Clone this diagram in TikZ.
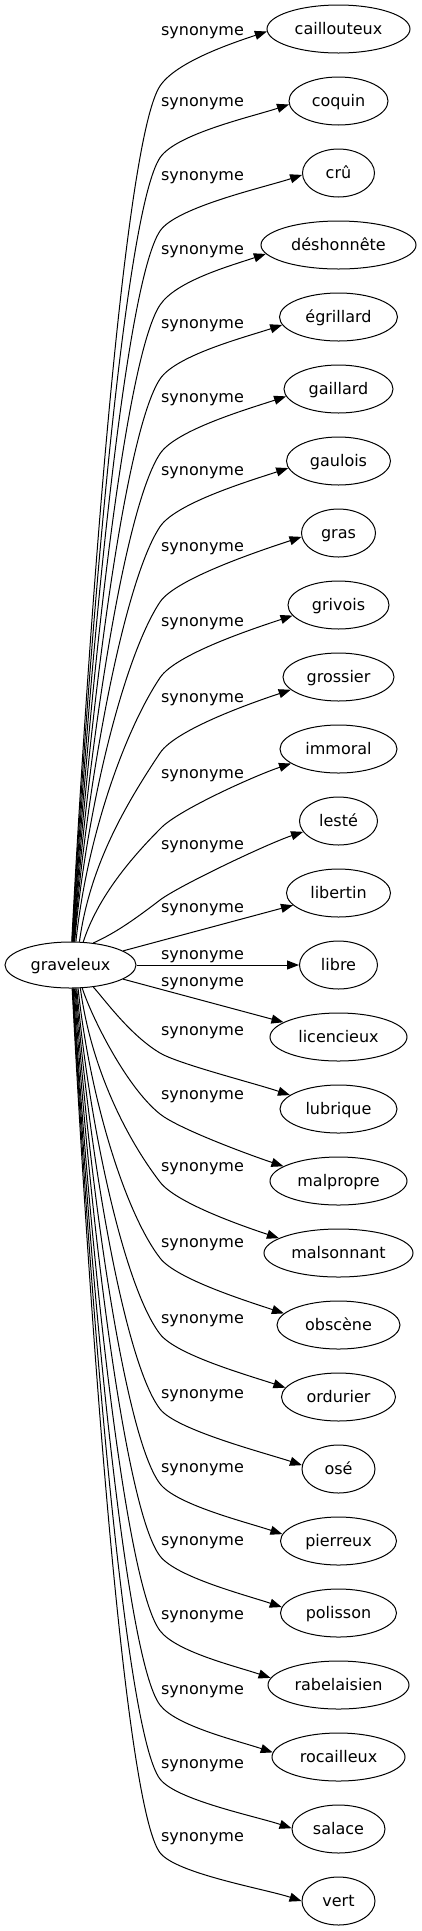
\documentclass[tikz,border=0pt]{standalone}
\usepackage{fontspec}
\setmainfont{DejaVu Sans}
\usetikzlibrary{shapes.geometric,arrows.meta,calc}
\begin{document}
\begin{tikzpicture}[x=1pt,y=-1pt,
  nd/.style={draw, ellipse, line width=1pt, inner sep=0pt, minimum height=48pt,
    text height=12pt, text depth=1pt, font=\fontsize{16}{19}\selectfont},
  lab/.style={anchor=base, inner sep=0pt, font=\fontsize{16}{19}\selectfont},
  syn/.style={line width=1pt, -{Triangle[length=12pt,width=9pt]}}]
\useasboundingbox (0,0) rectangle (422,1931);
\node[nd, minimum width=131pt, minimum height=46pt] (g) at (70.5,965) {graveleux};
\foreach \i/\nm/\w in {0/caillouteux/143, 1/coquin/99, 2/crû/72, 3/déshonnête/155,
  4/égrillard/118, 5/gaillard/109, 6/gaulois/104, 7/gras/74, 8/grivois/101,
  9/grossier/111, 10/immoral/117, 11/lesté/78, 12/libertin/104, 13/libre/78,
  14/licencieux/137, 15/lubrique/117, 16/malpropre/137, 17/malsonnant/149,
  18/obscène/123, 19/ordurier/114, 20/osé/73, 21/pierreux/116, 22/polisson/116,
  23/rabelaisien/141, 24/rocailleux/133, 25/salace/93, 26/vert/73}{
  \node[nd, minimum width=\w pt] (n\i) at (338.5,{29+72*\i}) {\nm};
}
\foreach \yl [count=\k from 0] in {30, 101.7, 175, 249, 323, 397.7, 470.7, 546, 621.7,
  697, 773, 844, 907, 954, 981.7, 1030, 1094, 1166, 1242, 1318, 1393, 1467.7,
  1540, 1614.7, 1689, 1763, 1836.7}{
  \node[lab] (l\k) at (202.5,{\yl+5}) {synonyme};
}
% upper, far edges
\foreach \i/\ang/\th/\yl in {0/87/182/30, 1/86/184/101.7, 2/85/183/175, 3/84/187/249,
  4/83/188/323, 5/82/188/397.7, 6/81/188/470.7, 7/80/186/546, 8/77/193/621.7,
  9/69/195/697}{
  \pgfmathsetmacro\yv{\yl+56}
  \pgfmathsetmacro\L{0.4*(942-\yv)}
  \pgfmathsetmacro\dx{0.03*\L+8}
  \pgfmathsetmacro\ya{\yv+52.5}
  \pgfmathsetmacro\yb{\yv-24}
  \draw[syn] (g.\ang) .. controls ($(g.\ang)+(\dx,-\L)$) and (125,\ya) .. (160,\yv)
    .. controls (176,\yb) and ($(n\i.\th)+(-36,12)$) .. (n\i.\th);
}
% upper, near edges
\draw[syn] (g.61) .. controls (95,905) and (122,867) .. (160,829)
  .. controls (176,811) and ($(n10.197)+(-36,12)$) .. (n10.197);
\draw[syn] (g.44) .. controls (113,934) and (130,923) .. (160,900)
  .. controls (178,886.3) and ($(n11.197)+(-36,12)$) .. (n11.197);
% straight edges
\draw[syn] (g) -- (n12);
\draw[syn] (g) -- (n13);
\draw[syn] (g) -- (n14);
% lower, near edges
\draw[syn] (g.-44) .. controls (105,1000) and (130,1035) .. (160,1053)
  .. controls (178,1063.8) and ($(n15.164)+(-36,-12)$) .. (n15.164);
\draw[syn] (g.-63) .. controls (90,1013) and (125,1086) .. (160,1114)
  .. controls (178,1128.4) and ($(n16.165)+(-36,-12)$) .. (n16.165);
% lower, far edges
\foreach \i/\ang/\th/\yl in {17/-67/166/1166, 18/-72/168/1242, 19/-75/170/1318,
  20/-77/174/1393, 21/-79/173/1467.7, 22/-81/174/1540, 23/-83/174/1614.7,
  24/-84/176/1689, 25/-85/179/1763, 26/-86/180/1836.7}{
  \pgfmathsetmacro\yv{\yl+16}
  \pgfmathsetmacro\L{0.4*(\yv-988)}
  \pgfmathsetmacro\dx{0.03*\L+8}
  \pgfmathsetmacro\ya{\yv-45.5}
  \pgfmathsetmacro\yb{\yv+21}
  \draw[syn] (g.\ang) .. controls ($(g.\ang)+(\dx,\L)$) and (125,\ya) .. (160,\yv)
    .. controls (176,\yb) and ($(n\i.\th)+(-36,-12)$) .. (n\i.\th);
}
\end{tikzpicture}
\end{document}
